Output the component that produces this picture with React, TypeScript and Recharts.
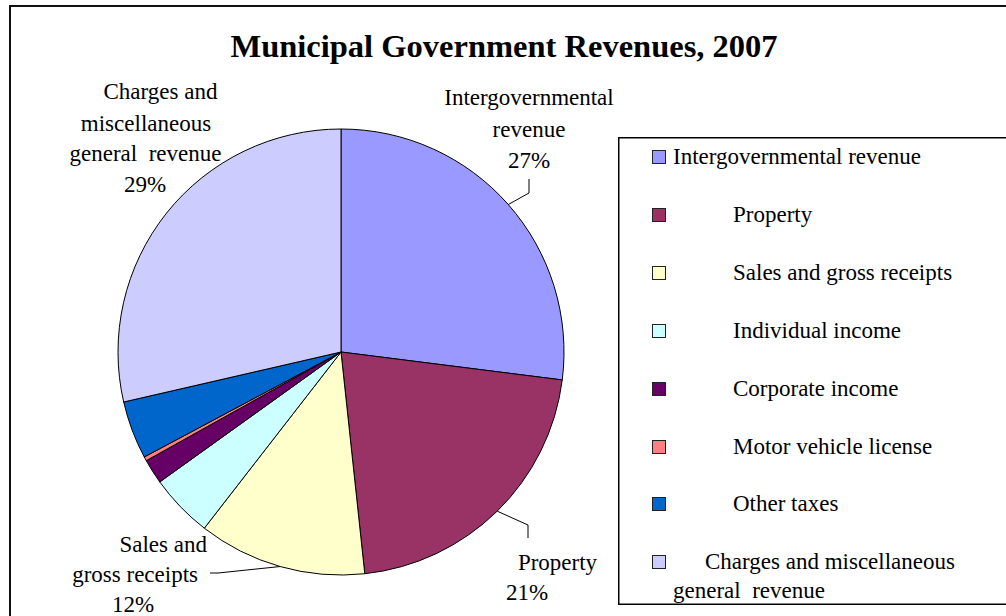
import React from 'react';
import { PieChart, Pie, Cell, Legend } from 'recharts';

// ---- data ----
const categories: string[] = [
  'Intergovernmental revenue',
  'Property',
  'Sales and gross receipts',
  'Individual income',
  'Corporate income',
  'Motor vehicle license',
  'Other taxes',
  'Charges and miscellaneous general revenue',
];
const shares: number[] = [27.0, 21.3, 12.2, 4.6, 1.8, 0.3, 4.2, 28.6];
const colors: string[] = ['#9999FF', '#993366', '#FFFFCC', '#CCFFFF', '#660066', '#FF8080', '#0066CC', '#CCCCFF'];
const labelTexts: (string[] | null)[] = [
  ['Intergovernmental', 'revenue'],
  ['Property'],
  ['Sales and', 'gross receipts'],
  null,
  null,
  null,
  null,
  ['Charges and', 'miscellaneous', 'general  revenue'],
];
const legendTexts: string[][] = [
  ['Intergovernmental revenue'],
  ['Property'],
  ['Sales and gross receipts'],
  ['Individual income'],
  ['Corporate income'],
  ['Motor vehicle license'],
  ['Other taxes'],
  ['Charges and miscellaneous', 'general  revenue'],
];

const data = categories.map((name, i) => ({ name, value: shares[i] }));

// ---- layout (styles / positions) ----
const FONT = "'Liberation Serif', 'Times New Roman', serif";
const W = 1006;
const H = 616;
const CX = 341;
const CY = 352;
const R = 223;

type LineSpec = [number, number, 'start' | 'middle' | 'end'];
const labelLayout: Record<number, { lines: LineSpec[]; leader: [number, number][] | null }> = {
  0: { lines: [[188, -247, 'middle'], [188, -215, 'middle'], [188, -184, 'middle']], leader: [[188, -159], [188, -173]] },
  1: { lines: [[216.5, 218, 'middle'], [186, 248, 'middle']], leader: [[187, 173], [187, 186]] },
  2: { lines: [[-134, 200, 'end'], [-143, 230, 'end'], [-208, 260, 'middle']], leader: [[-123, 221], [-131, 221]] },
  7: { lines: [[-180.5, -253, 'middle'], [-195, -221, 'middle'], [-195.5, -191, 'middle'], [-196, -160, 'middle']], leader: null },
};

const RAD = Math.PI / 180;
const LABEL_SIZE = 23;

const renderLabel = (props: any) => {
  const { cx, cy, midAngle, outerRadius, index, percent } = props;
  const layout = labelLayout[index];
  const texts = labelTexts[index];
  if (!layout || !texts) return null;
  const allLines = [...texts, `${Math.round(percent * 100)}%`];
  const ex = cx + outerRadius * Math.cos(-midAngle * RAD);
  const ey = cy + outerRadius * Math.sin(-midAngle * RAD);
  let pts = '';
  if (layout.leader) {
    pts = [[ex, ey], ...layout.leader.map(([dx, dy]) => [cx + dx, cy + dy])].map((p) => p.join(',')).join(' ');
  }
  return (
    <g key={`lbl-${index}`}>
      {layout.leader && <polyline points={pts} fill="none" stroke="#000" strokeWidth={1} />}
      {allLines.map((t, j) => {
        const [dx, dy, anchor] = layout.lines[j];
        return (
          <text
            key={j}
            x={cx + dx}
            y={cy + dy}
            textAnchor={anchor}
            fontFamily={FONT}
            fontSize={LABEL_SIZE}
            fill="#000"
            style={{ whiteSpace: 'pre' }}
          >
            {t}
          </text>
        );
      })}
    </g>
  );
};

const LEG_LEFT = 618;
const LEG_TOP = 137;
const LEG_W = 400;
const LEG_H = 468;
const rowCenters = [20, 78, 136, 194, 252, 310, 367, 425];
const legendTextX = [55, 115, 115, 115, 115, 115, 115, 87];

const LegendContent = () => (
  <svg width={LEG_W} height={LEG_H} style={{ display: 'block' }}>
    <rect x={0.75} y={0.75} width={LEG_W - 1.5} height={LEG_H - 1.5} fill="#fff" stroke="#000" strokeWidth={1.5} />
    {categories.map((c, i) => (
      <g key={c}>
        <rect x={34.5} y={rowCenters[i] - 6.5} width={13} height={13} fill={colors[i]} stroke="#222" strokeWidth={1} />
        {legendTexts[i].map((t, j) => (
          <text
            key={j}
            x={j === 0 ? legendTextX[i] : 55}
            y={rowCenters[i] + 7 + j * 29}
            fontFamily={FONT}
            fontSize={LABEL_SIZE}
            fill="#000"
            style={{ whiteSpace: 'pre' }}
          >
            {t}
          </text>
        ))}
      </g>
    ))}
  </svg>
);

export default function App() {
  return (
    <div style={{ position: 'fixed', left: 0, top: 0, width: W, height: H, overflow: 'hidden', background: '#fff' }}>
      <div
        style={{
          position: 'absolute',
          left: 9,
          top: 5,
          width: 1100,
          height: 700,
          border: '2px solid #111',
          boxSizing: 'border-box',
        }}
      />
      <div
        style={{
          position: 'absolute',
          left: 0,
          top: 30,
          width: 1008,
          textAlign: 'center',
          fontFamily: FONT,
          fontWeight: 'bold',
          fontSize: 32.5,
          lineHeight: '32px',
          color: '#000',
        }}
      >
        Municipal Government Revenues, 2007
      </div>
      <div style={{ position: 'absolute', left: 0, top: 0 }}>
        <PieChart width={W} height={H} margin={{ top: 0, right: 0, bottom: 0, left: 0 }}>
          <Pie
            data={data}
            dataKey="value"
            nameKey="name"
            cx={CX}
            cy={CY}
            outerRadius={R}
            startAngle={90}
            endAngle={-270}
            stroke="#000"
            strokeWidth={1}
            label={renderLabel}
            labelLine={false}
            isAnimationActive={false}
          >
            {data.map((d, i) => (
              <Cell key={d.name} fill={colors[i]} />
            ))}
          </Pie>
          <Legend
            layout="vertical"
            align="right"
            verticalAlign="top"
            width={LEG_W}
            height={LEG_H}
            content={<LegendContent />}
            wrapperStyle={{ left: LEG_LEFT, top: LEG_TOP, width: LEG_W, height: LEG_H, right: 'auto', bottom: 'auto' }}
          />
        </PieChart>
      </div>
    </div>
  );
}
